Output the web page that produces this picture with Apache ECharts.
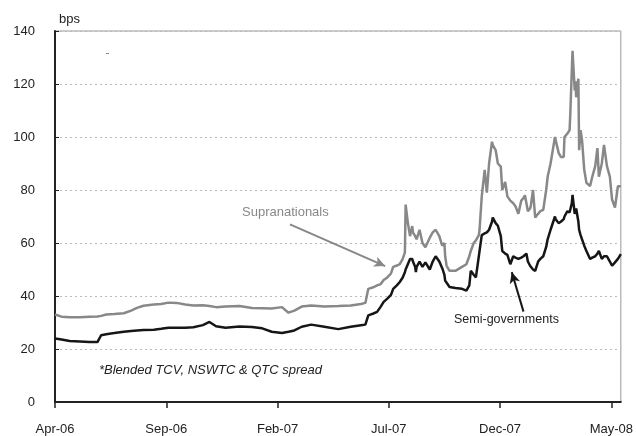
<!DOCTYPE html>
<html>
<head>
<meta charset="utf-8">
<script src="https://cdn.jsdelivr.net/npm/echarts@6/dist/echarts.min.js"></script>
<style>
html,body{margin:0;padding:0;background:#fff;}
#chart{width:636px;height:436px;}
</style>
</head>
<body>
<div id="chart"></div>
<script>
// days since 1-Apr-2006
var dayOffsets = [0,9,20,34,47,58,63,70,81,94,104,112,121,135,145,155,166,178,189,202,211,220,233,252,269,283,296,310,319,327,337,350,368,387,404,418,424,
    428,435,440,445,449,454,459,
    462,467,471,475,478,479,482,485,488,489,492,493,494,498,502,506,512,516,520,525,529,532,533,535,539,547,556,562,566,568,572,575,579,580,583,587,590,593,597,598,602,605,609,611,615,618,622,624,626,629,633,637,640,642,644,646,649,650,653,656,660,663,667,671,673,677,683,684,688,691,695,696,700,703,704,706,707,710,711,712,715,716,718,720,723,726,731,734,738,741,743,747,750,754,758,761,765,769,773];

var supranationals = [33,32.2,32,32,32.2,32.3,32.5,33,33.2,33.5,34.5,35.5,36.3,36.8,37,37.5,37.4,36.8,36.4,36.5,36.2,35.8,36,36.2,35.5,35.4,35.3,35.8,33.7,34.5,36,36.4,36,36.2,36.4,37,37.4,
    42.7,43.3,44,44.5,46,47,48.5,
    51,51.5,52,54,56.5,74.5,67.7,62.6,66.4,64,62.6,62,61.4,65,60,58.4,62,64,65,62.6,59,60,55,51.4,49.5,49.5,51,52,55,57,60,61,63,65,77.6,87.6,79,90,98.2,97,95,90,88.8,80,83,77.6,76,75.6,75,73.9,71,76,77,78,75,72,73,74,80,69.6,71,72,72.5,80,85,90,100,98.8,94,92.5,92.5,100,101.3,102.6,109,125,132.5,117.6,121,115,122,95,102.6,98.8,87.6,82.7,81.5,85,89,95.8,85,90,97,89,85,76.4,73.4,81.4,81.4];

var semiGovernments = [24,23.6,23,22.8,22.6,22.6,25.2,25.6,26,26.5,26.8,27,27.2,27.3,27.6,28,28,28,28.2,29,30.2,28.6,28,28.5,28.3,27.8,26.5,26,26.5,27,28.4,29.2,28.4,27.5,28.4,29,29.2,
    32.7,33.4,34,36,37.8,39,40.4,
    42.7,44,45.3,47,49,50,52,54,54,53,51,49,51,53,51,52.7,50,53,55,53,50.5,48,45.8,45,43.4,43,42.7,42,44,49.5,48,47,55,57,63,63.6,64,65,68,69.6,67.5,66.5,62.6,57,56,55.5,52,53.5,55,54.5,54,54.5,55,55.5,56,53,51.4,51,50,49.5,53,54,55,58.5,61.4,65,70,69,67.5,68,69,70,72,71.5,71,75,78.2,71,72,73,68,65,63,61.4,59,57,54,54.5,55,56,57,54,55,55,53,51.4,52.7,54,55.8];

var tickLabels = ['Apr-06','Sep-06','Feb-07','Jul-07','Dec-07','May-08'];

function pairs(vals){
    var out = [];
    for (var i = 0; i < vals.length && i < dayOffsets.length; i++) out.push([dayOffsets[i], vals[i]]);
    return out;
}

var font = 'Arial, "Liberation Sans", sans-serif';
var myChart = echarts.init(document.getElementById('chart'), null, {renderer:'canvas'});
myChart.setOption({
    animation: false,
    backgroundColor: '#fff',
    grid: {left:55, right:7, top:31, bottom:32, show:true, borderColor:'#999', borderWidth:1},
    xAxis: {
        type: 'value', min: 0, max: 773, interval: 152,
        axisLine: {lineStyle:{color:'#222', width:2}},
        axisTick: {show:true, inside:false, length:6, lineStyle:{color:'#222', width:1.5}},
        axisLabel: {
            margin: 21, color:'#222', fontSize:13, fontFamily:font,
            showMaxLabel: false,
            formatter: function(v){ return tickLabels[Math.round(v/152)] || ''; }
        },
        splitLine: {show:false}
    },
    yAxis: {
        type: 'value', min: 0, max: 140, interval: 20,
        name: 'bps', nameLocation: 'end', nameGap: 5,
        nameTextStyle: {align:'left', verticalAlign:'bottom', color:'#222', fontSize:13, fontFamily:font, padding:[0,0,0,4]},
        axisLine: {show:true, lineStyle:{color:'#222', width:2}},
        axisTick: {show:true, inside:true, length:4, lineStyle:{color:'#222', width:1}},
        axisLabel: {margin:20, color:'#222', fontSize:13, fontFamily:font},
        splitLine: {show:true, lineStyle:{color:'#bbb', type:[2,3], width:1}}
    },
    series: [
        {
            name: 'Supranationals', type: 'line', data: pairs(supranationals),
            showSymbol: false, symbol: 'none',
            lineStyle: {color:'#888', width:2.5},
            z: 3,
            markLine: {
                silent: true, symbol: ['none','arrow'], symbolSize: [8,11],
                label: {show:false},
                lineStyle: {color:'#888', width:2, type:'solid'},
                data: [[{coord:[321,67]},{coord:[451,51.3]}]]
            }
        },
        {
            name: 'Semi-governments', type: 'line', data: pairs(semiGovernments),
            showSymbol: false, symbol: 'none',
            lineStyle: {color:'#161616', width:2.5},
            z: 4,
            markLine: {
                silent: true, symbol: ['none','arrow'], symbolSize: [8,11],
                label: {show:false},
                lineStyle: {color:'#161616', width:2, type:'solid'},
                data: [[{coord:[640,34.1]},{coord:[624,49]}]]
            }
        }
    ],
    graphic: [
        {type:'text', left:242, top:206, style:{text:'Supranationals', fill:'#888', font:'13px ' + font}},
        {type:'text', left:454, top:313, style:{text:'Semi-governments', fill:'#222', font:'12.5px ' + font}},
        {type:'text', left:99, top:364, style:{text:'*Blended TCV, NSWTC & QTC spread', fill:'#222', font:'italic 13px ' + font}},
        {type:'rect', left:106, top:53, shape:{width:3, height:1}, style:{fill:'#888'}}
    ]
});
</script>
</body>
</html>
